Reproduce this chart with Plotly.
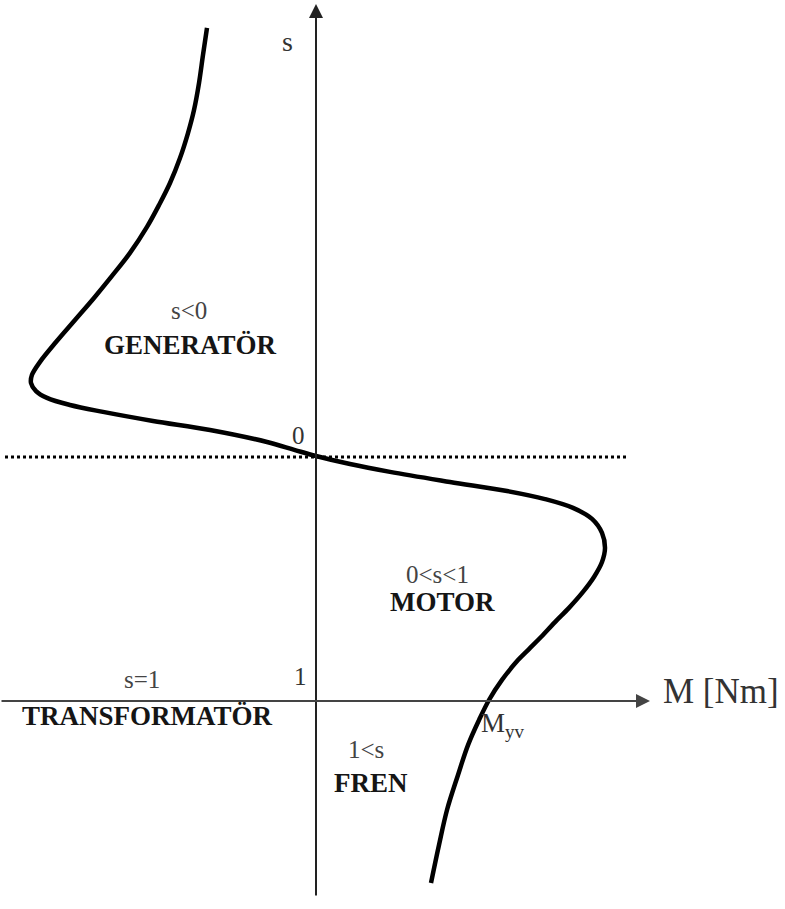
import plotly.graph_objects as go

# Torque (M, arbitrary units) vs slip (s) for the induction machine curve
M_curve = [-1.09, -1.13, -1.17, -1.22, -1.28, -1.36, -1.46, -1.57, -1.69, -1.86, -2.04, -2.22,
           -2.41, -2.60, -2.76, -2.84, -2.85, -2.80, -2.69, -2.46, -2.13, -1.63, -1.06, -0.49,
           -0.21, 0.0, 0.34, 0.74, 1.34, 1.91, 2.29, 2.57, 2.76, 2.86, 2.89, 2.86, 2.78, 2.67,
           2.53, 2.39, 2.25, 2.13, 2.02, 1.86, 1.73, 1.63, 1.52, 1.42, 1.31, 1.23, 1.15]
s_curve = [-1.747, -1.637, -1.522, -1.412, -1.318, -1.216, -1.114, -1.024, -0.935, -0.829, -0.735, -0.645,
           -0.555, -0.465, -0.384, -0.331, -0.298, -0.265, -0.237, -0.208, -0.180, -0.143, -0.106, -0.057,
           -0.024, 0.0, 0.033, 0.065, 0.106, 0.143, 0.176, 0.212, 0.257, 0.314, 0.376, 0.433, 0.494, 0.555,
           0.620, 0.678, 0.739, 0.788, 0.833, 0.914, 0.996, 1.078, 1.180, 1.302, 1.445, 1.588, 1.743]

# Region labels: (text, M, s, bold)
region_texts = ["s<0", "GENERATÖR", "0<s<1", "MOTOR", "s=1", "TRANSFORMATÖR", "1<s", "FREN"]
region_M = [-1.27, -1.26, 1.21, 1.26, -1.74, -1.69, 0.50, 0.55]
region_s = [-0.592, -0.453, 0.482, 0.596, 0.914, 1.061, 1.200, 1.335]
region_bold = [False, True, False, True, False, True, False, True]

# Axis labels / tick labels
axis_texts = ["s", "0", "1", "M [Nm]", "M<sub>yv</sub>"]
axis_M = [-0.29, -0.18, -0.16, 4.05, 1.86]
axis_s = [-1.690, -0.082, 0.902, 0.963, 1.098]
axis_sizes = [28, 25, 25, 35, 27]

FONT = "Liberation Serif"

fig = go.Figure()

fig.add_trace(go.Scatter(
    x=M_curve, y=s_curve, mode="lines",
    line=dict(color="black", width=4.5, shape="spline", smoothing=1.0),
    hoverinfo="skip", showlegend=False,
))

# dotted s=0 line
fig.add_shape(type="line", x0=-3.11, x1=3.12, y0=0.004, y1=0.004, xref="x", yref="y",
              line=dict(color="black", width=3, dash="dot"))

annotations = []
# vertical s axis with arrow
annotations.append(dict(x=0, y=-1.845, ax=0, ay=1.80, xref="x", yref="y", axref="x", ayref="y",
                        text="", showarrow=True, arrowhead=2, arrowsize=1.4, arrowwidth=2,
                        arrowcolor="#222"))
# horizontal M axis with arrow
annotations.append(dict(x=3.34, y=1.0, ax=-3.16, ay=1.0, xref="x", yref="y", axref="x", ayref="y",
                        text="", showarrow=True, arrowhead=2, arrowsize=1.4, arrowwidth=2,
                        arrowcolor="#444"))

for t, xm, ys, b in zip(region_texts, region_M, region_s, region_bold):
    annotations.append(dict(
        x=xm, y=ys, xref="x", yref="y", showarrow=False,
        text=f"<b>{t}</b>" if b else t.replace("<", "&lt;"),
        font=dict(family=FONT, size=27 if b else 25, color="#151515" if b else "#444"),
    ))

for t, xm, ys, sz in zip(axis_texts, axis_M, axis_s, axis_sizes):
    annotations.append(dict(
        x=xm, y=ys, xref="x", yref="y", showarrow=False, text=t,
        font=dict(family=FONT, size=sz, color="#333"),
    ))

fig.update_layout(
    width=785, height=909,
    margin=dict(l=0, r=0, t=0, b=0),
    paper_bgcolor="white", plot_bgcolor="white",
    xaxis=dict(range=[-3.16, 4.69], visible=False, fixedrange=True),
    yaxis=dict(range=[1.849, -1.861], visible=False, fixedrange=True),
    annotations=annotations,
    showlegend=False,
)

fig.write_html("out.html", config={"displayModeBar": False},
               post_script="document.body.style.margin='0px';document.body.style.overflow='hidden';")
